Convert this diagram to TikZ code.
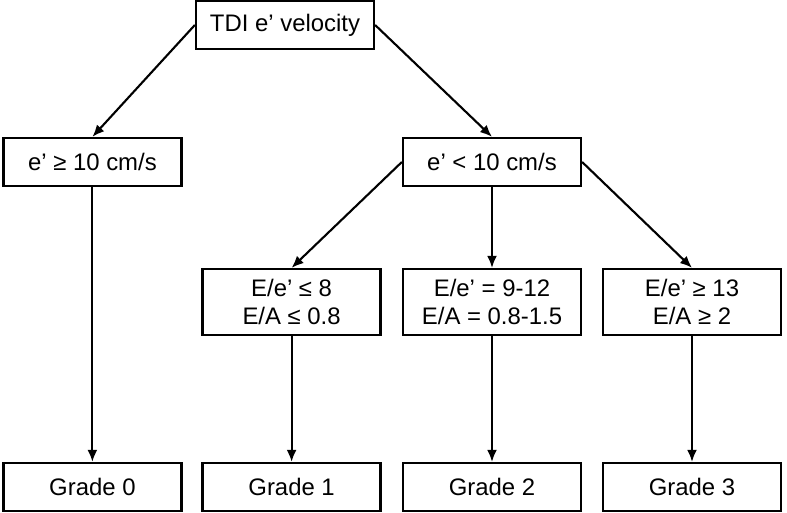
\documentclass[tikz,border=0pt]{standalone}
\usepackage{fontspec}
\setmainfont{Liberation Sans}
\usetikzlibrary{arrows.meta}

\tikzset{
  box/.style={draw=black, line width=1.6pt, minimum width=4.45cm, align=center, font=\fontsize{17}{19.5}\selectfont},
  onebox/.style={box, minimum height=1.2cm},
  twobox/.style={box, minimum height=1.65cm},
  arr/.style={line width=1.5pt, -{Latex[length=3mm,width=2.5mm]}}
}

\begin{document}
\begin{tikzpicture}
\useasboundingbox (0,0) rectangle (19.675,-12.825);
% tree of boxes
\node[onebox] (tdi) at (7.125,-0.625) {TDI e’ velocity};
\node[onebox] (high) at (2.31,-4.05) {e’ ≥ 10 cm/s};
\node[onebox] (low) at (12.3,-4.05) {e’ < 10 cm/s};
\node[twobox] (ratio1) at (7.29,-7.55) {E/e’ ≤ 8\\E/A ≤ 0.8};
\node[twobox] (ratio2) at (12.3,-7.55) {E/e’ = 9-12\\E/A = 0.8-1.5};
\node[twobox] (ratio3) at (17.3,-7.55) {E/e’ ≥ 13\\E/A ≥ 2};
\node[onebox] (g0) at (2.31,-12.175) {Grade 0};
\node[onebox] (g1) at (7.29,-12.175) {Grade 1};
\node[onebox] (g2) at (12.3,-12.175) {Grade 2};
\node[onebox] (g3) at (17.3,-12.175) {Grade 3};
% arrows
\draw[arr] (tdi.west) -- (high.north);
\draw[arr] (tdi.east) -- (low.north);
\draw[arr] (low.west) -- (ratio1.north);
\draw[arr] (low.south) -- (ratio2.north);
\draw[arr] (low.east) -- (ratio3.north);
\draw[arr] (high.south) -- (g0.north);
\draw[arr] (ratio1.south) -- (g1.north);
\draw[arr] (ratio2.south) -- (g2.north);
\draw[arr] (ratio3.south) -- (g3.north);
\end{tikzpicture}
\end{document}
